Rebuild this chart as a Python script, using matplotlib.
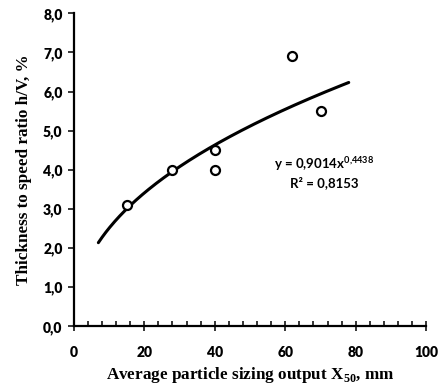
import numpy as np
import matplotlib.pyplot as plt
from matplotlib.ticker import MultipleLocator, FuncFormatter

# measured points
x50 = [15, 28, 40, 40, 62, 70]
ratio = [3.1, 4.0, 4.5, 4.0, 6.9, 5.5]

# power trend line y = a * x^b
coef_a = 0.9014
coef_b = 0.4438
r2 = 0.8153
fit_start = 7
fit_end = 78

x_ticks = [0, 20, 40, 60, 80, 100]
y_ticks = [0, 1, 2, 3, 4, 5, 6, 7, 8]

plt.rcParams['mathtext.fontset'] = 'custom'
plt.rcParams['mathtext.rm'] = 'Liberation Serif:bold'
plt.rcParams['mathtext.bf'] = 'Liberation Serif:bold'
plt.rcParams['mathtext.sf'] = 'Lato:bold'

fig = plt.figure(figsize=(4.42, 3.87), dpi=100)
ax = fig.add_axes([0.1667, 0.1568, 0.7978, 0.8088])

xf = np.linspace(fit_start, fit_end, 200)
ax.plot(xf, coef_a * xf ** coef_b, color='black', linewidth=2.2, solid_capstyle='round', zorder=2)
ax.scatter(x50, ratio, s=42, facecolors='white', edgecolors='black', linewidths=1.6, zorder=3)

ax.set_xlim(0, 100)
ax.set_ylim(0, 8)
ax.set_xticks(x_ticks)
ax.set_yticks(y_ticks)
ax.xaxis.set_minor_locator(MultipleLocator(4))
ax.yaxis.set_major_formatter(FuncFormatter(lambda v, p: f"{v:.1f}".replace('.', ',')))

for side in ['top', 'right']:
    ax.spines[side].set_visible(False)
for side in ['left', 'bottom']:
    ax.spines[side].set_linewidth(1.6)

ax.tick_params(axis='x', which='major', direction='inout', length=7, width=1.1, pad=11)
ax.tick_params(axis='x', which='minor', direction='in', length=3.5, width=1.1)
ax.tick_params(axis='y', which='major', direction='out', length=4, width=1.1, pad=4)
for lbl in ax.get_xticklabels() + ax.get_yticklabels():
    lbl.set_fontfamily('Lato')
    lbl.set_fontweight('heavy')
    lbl.set_fontsize(10)

ax.set_xlabel('Average particle sizing output X$_{\\mathbf{50}}$, mm', fontsize=12.3,
              fontweight='bold', family='Liberation Serif', labelpad=4)
ax.set_ylabel('Thickness to speed ratio h/V, %', fontsize=12.3,
              fontweight='bold', family='Liberation Serif', labelpad=8)

a_txt = f"{coef_a:.4f}".replace('.', ',')
b_txt = f"{coef_b:.4f}".replace('.', '{,}')
eq = "y = " + a_txt + "x$^{\\mathsf{" + b_txt + "}}$"
ax.text(71, 4.15, eq, ha='center', va='center', fontsize=9.5, fontweight='bold', family='Lato')
ax.text(71, 3.68, 'R² = ' + f"{r2:.4f}".replace('.', ','), ha='center', va='center',
        fontsize=9.5, fontweight='bold', family='Lato')

fig.savefig('out.png', dpi=100)
